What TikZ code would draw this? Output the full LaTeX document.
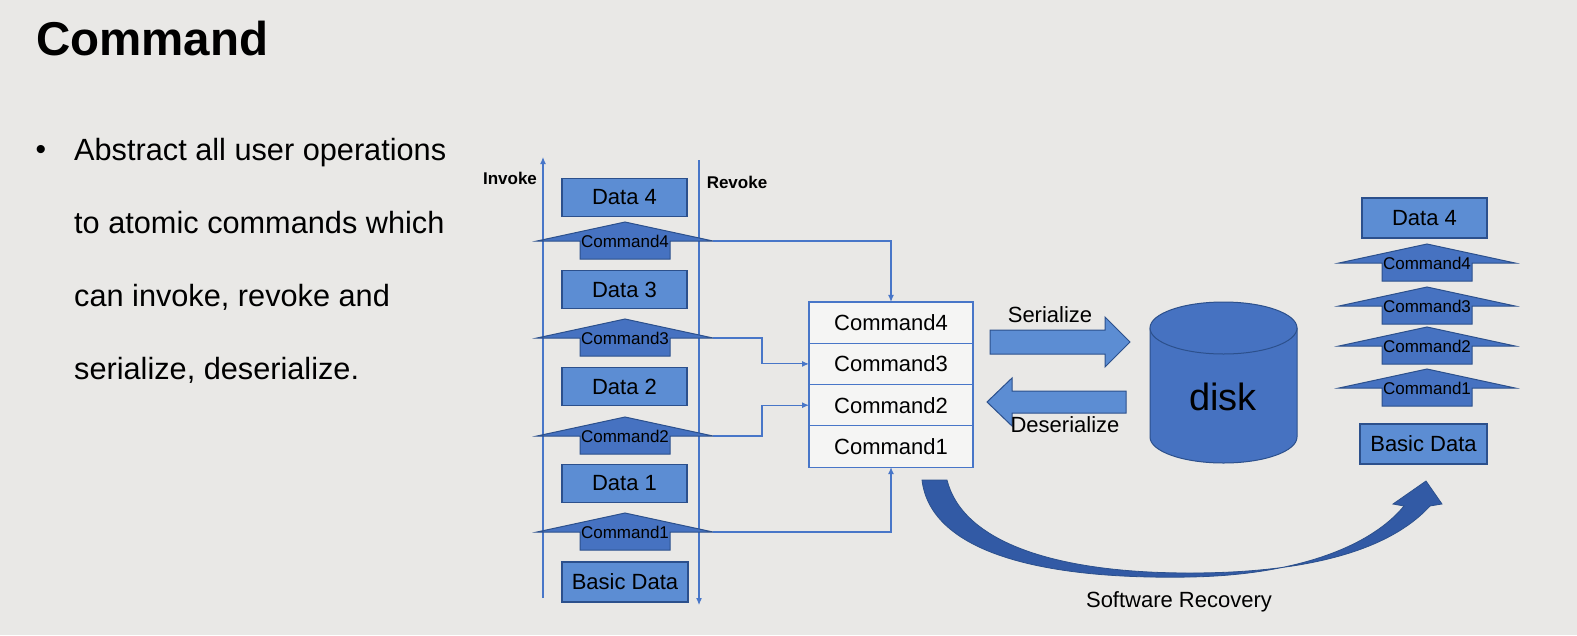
\documentclass[tikz,border=0pt]{standalone}
\usepackage{fontspec}
\setmainfont{Liberation Sans}
\usetikzlibrary{arrows.meta,positioning}

\definecolor{bgcol}{RGB}{233,232,230}
\definecolor{datablue}{RGB}{92,141,211}
\definecolor{cmdblue}{RGB}{70,114,193}
\definecolor{edgeblue}{RGB}{44,80,140}
\definecolor{linkblue}{RGB}{72,118,200}
\definecolor{recblue}{RGB}{50,90,165}

% up block arrow for one command: name, x, base y, label
\newcommand\cmdup[4]{%
	\draw[cmdshape] ({#2-88},#3) -- (#2,{#3-19}) -- ({#2+88},#3) -- ({#2+45},#3) -- ({#2+45},{#3+18}) -- ({#2-45},{#3+18}) -- ({#2-45},#3) -- cycle;
	\coordinate (#1r) at ({#2+88},#3);
	\node[cmdtext] (#1) at (#2,#3) {#4};
}

\begin{document}
\begin{tikzpicture}[x=1pt, y=-1pt, every node/.style={inner sep=0pt},
		databox/.style={draw=edgeblue, fill=datablue, line width=1.2pt, minimum width=125pt, minimum height=38pt, font=\fontsize{22}{26}\selectfont},
		cmdshape/.style={draw=edgeblue, fill=cmdblue, line width=1pt},
		cmdtext/.style={font=\fontsize{17}{20}\selectfont},
		stackrow/.style={draw=linkblue, fill=white!55!bgcol, line width=1.2pt, outer sep=0pt, minimum width=164pt, minimum height=41.3pt, font=\fontsize{22}{26}\selectfont},
		link/.style={draw=linkblue, line width=1.1pt, -{Latex[length=7pt,width=6pt]}},
		blockarrow/.style={draw=edgeblue, fill=datablue, line width=1pt},
		plain/.style={font=\fontsize{22}{26}\selectfont}]
	\fill[bgcol] (0,0) rectangle (1577,635);
	\useasboundingbox (0,0) rectangle (1577,635);

	% title and bullet
	\node[anchor=base west, font=\bfseries\fontsize{47.5}{52}\selectfont] (title) at (36,55) {Command};
	\node[font=\fontsize{30}{34}\selectfont] (dot) at (41,152) {•};
	\node[anchor=base west, font=\fontsize{30.7}{36}\selectfont] (b1) at (74,160) {Abstract all user operations};
	\node[anchor=base west, font=\fontsize{30.7}{36}\selectfont] (b2) at (74,233) {to atomic commands which};
	\node[anchor=base west, font=\fontsize{30.7}{36}\selectfont] (b3) at (74,306) {can invoke, revoke and};
	\node[anchor=base west, font=\fontsize{30.7}{36}\selectfont] (b4) at (74,379) {serialize, deserialize.};

	% invoke / revoke axes
	\coordinate (inv0) at (543,598);
	\coordinate (inv1) at (543,157);
	\coordinate (rev0) at (699,160);
	\coordinate (rev1) at (699,605);
	\draw[link] (inv0) -- (inv1);
	\draw[link] (rev0) -- (rev1);
	\node[font=\bfseries\fontsize{17}{20}\selectfont] (invoke) at (510,178) {Invoke};
	\node[font=\bfseries\fontsize{17}{20}\selectfont] (revoke) at (737,182) {Revoke};

	% left history
	\node[databox] (ld4) at (624.5,197.5) {Data 4};
	\node[databox] (ld3) at (624.5,289.5) {Data 3};
	\node[databox] (ld2) at (624.5,386.5) {Data 2};
	\node[databox] (ld1) at (624.5,483.5) {Data 1};
	\node[databox, minimum width=126pt, minimum height=40pt] (lbase) at (625,582) {Basic Data};
	\foreach \n/\y in {4/241,3/338,2/436,1/532}
		\cmdup{lc\n}{625}{\y}{Command\n};

	% command stack
	\node[stackrow] (s4) at (891,322.6) {Command4};
	\node[stackrow, below=0pt of s4] (s3) {Command3};
	\node[stackrow, below=0pt of s3] (s2) {Command2};
	\node[stackrow, below=0pt of s2] (s1) {Command1};

	\draw[link] (lc4r) -| (s4.north);
	\draw[link] (lc3r) -- ([xshift=49pt]lc3r) |- (s3.west);
	\draw[link] (lc2r) -- ([xshift=49pt]lc2r) |- (s2.west);
	\draw[link] (lc1r) -| (s1.south);

	% serialize / deserialize
	\draw[blockarrow] (990,330) -- (1105,330) -- (1105,317) -- (1130,342) -- (1105,367) -- (1105,354) -- (990,354) -- cycle;
	\node[plain] (ser) at (1050,315) {Serialize};
	\draw[blockarrow] (1126,391) -- (1012,391) -- (1012,378) -- (987,402) -- (1012,426) -- (1012,413) -- (1126,413) -- cycle;
	\node[plain] (deser) at (1065,425) {Deserialize};

	% disk
	\draw[cmdshape] (1150,328) -- (1150,437) arc[start angle=180, end angle=0, x radius=73.5, y radius=26] -- (1297,328) -- cycle;
	\draw[cmdshape] (1223.5,328) ellipse [x radius=73.5, y radius=26];
	\node[anchor=base, font=\fontsize{38}{44}\selectfont] (disk) at (1223,410) {disk};

	% recovered history
	\node[databox, minimum height=40pt] (rd4) at (1424.5,218) {Data 4};
	\foreach \n/\y in {4/263,3/306,2/346,1/388}
		\cmdup{rc\n}{1427}{\y}{Command\n};
	\node[databox, minimum width=127pt, minimum height=40pt] (rbase) at (1423.5,444) {Basic Data};

	% software recovery
	\filldraw[draw=edgeblue, fill=recblue, line width=0.8pt] (922,480) .. controls (930,548) and (1030,580) .. (1190,577) .. controls (1300,575) and (1372,545) .. (1404,506) -- (1393,504) -- (1426,481) -- (1442,504) -- (1430,506) .. controls (1385,555) and (1295,573) .. (1190,573) .. controls (1050,573) and (962,540) .. (947,480) -- cycle;
	\node[anchor=base, plain] (recover) at (1179,607) {Software Recovery};
\end{tikzpicture}
\end{document}
